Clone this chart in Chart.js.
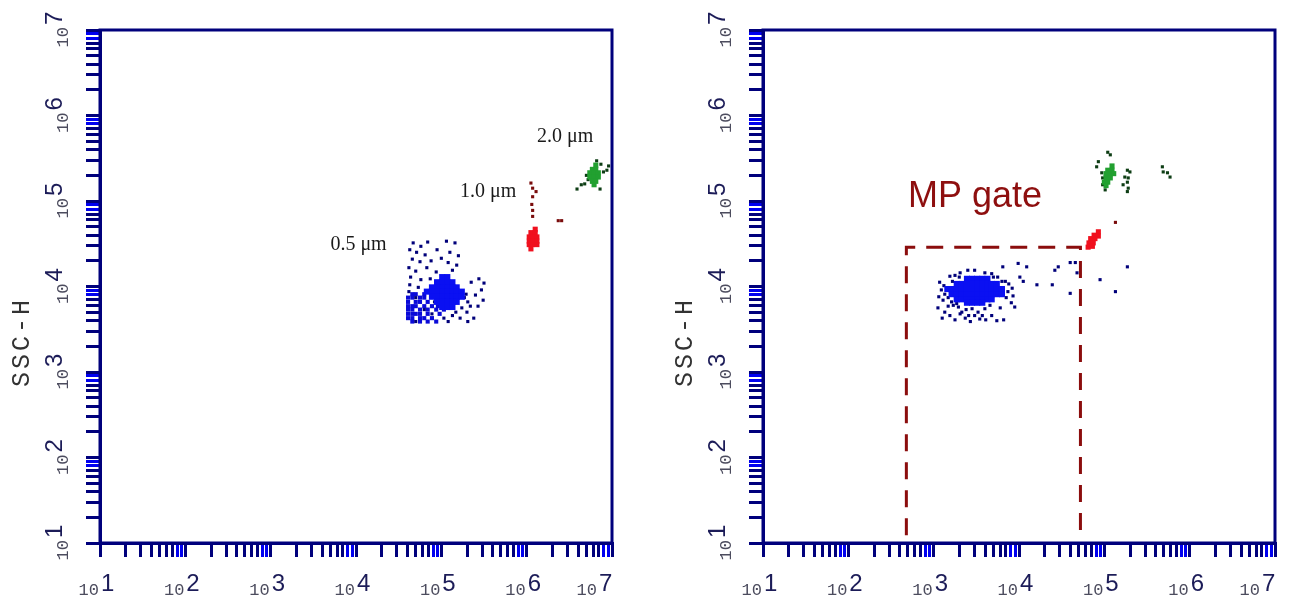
<!DOCTYPE html>
<html>
<head>
<meta charset="utf-8">
<script src="https://cdn.jsdelivr.net/npm/chart.js@4.4.1/dist/chart.umd.min.js"></script>
<style>
  html, body { margin: 0; padding: 0; background: #fff; width: 1298px; height: 607px; overflow: hidden; }
  canvas { position: absolute; top: 0; }
  #left { left: 0; }
  #right { left: 663px; }
</style>
</head>
<body>
<canvas id="left" width="635" height="607"></canvas>
<canvas id="right" width="635" height="607"></canvas>
<script>
// values, as [log10 FSC-H, log10 SSC-H]
const leftBlueCore = [
  [5.01,4.11],[5.07,4.11],
  [4.95,4.05],[5.01,4.05],[5.07,4.05],[5.13,4.05],
  [4.89,3.99],[4.95,3.99],[5.01,3.99],[5.07,3.99],[5.13,3.99],[5.18,3.99],
  [4.83,3.94],[4.89,3.94],[4.95,3.94],[5.01,3.94],[5.07,3.94],[5.13,3.94],[5.18,3.94],[5.24,3.94],
  [4.89,3.88],[4.95,3.88],[5.01,3.88],[5.07,3.88],[5.13,3.88],[5.18,3.88],[5.24,3.88],
  [4.95,3.82],[5.01,3.82],[5.07,3.82],[5.13,3.82],[5.18,3.82],
  [5.01,3.76],[5.07,3.76],[5.13,3.76]
];
const leftBlueDense = [
  [4.66,3.91],[4.70,3.91],[4.80,3.91],
  [4.61,3.87],[4.66,3.87],[4.75,3.87],[4.80,3.87],
  [4.61,3.82],[4.70,3.82],[4.75,3.82],[4.84,3.82],
  [4.61,3.77],[4.66,3.77],[4.70,3.77],[4.80,3.77],[4.89,3.77],[4.96,3.77],
  [4.61,3.73],[4.66,3.73],[4.75,3.73],[4.84,3.73],[4.94,3.73],[5.03,3.73],
  [4.61,3.68],[4.66,3.68],[4.70,3.68],[4.75,3.68],[4.84,3.68],[4.98,3.68],
  [4.61,3.63],[4.66,3.63],[4.75,3.63],[4.80,3.63],[4.89,3.63],
  [4.66,3.59],[4.75,3.59],[4.84,3.59],[4.94,3.59]
];
const leftBlueSparse = [
  [4.67,4.51],[4.76,4.47],[4.84,4.52],[5.06,4.53],[5.16,4.51],
  [4.63,4.43],[4.71,4.40],[4.81,4.37],[4.95,4.43],[5.10,4.40],[5.20,4.36],
  [4.66,4.32],[4.75,4.29],[4.88,4.30],[5.00,4.33],[5.08,4.28],[5.18,4.25],
  [4.62,4.22],[4.70,4.18],[4.83,4.22],[4.94,4.17],[5.13,4.19],
  [4.64,4.11],[4.76,4.08],[4.87,4.09],[4.63,4.02],[4.73,3.99],[4.62,3.94],
  [5.35,4.05],[5.44,4.09],[5.50,4.04],[5.40,3.90],[5.47,3.96],[5.43,3.77],
  [5.30,3.70],[5.38,3.63],[5.49,3.84],
  [5.27,3.87],[5.31,3.82],[5.29,3.91],[5.24,3.75],[5.34,3.77],[5.17,3.70],
  [5.13,3.66],[5.22,3.63],[5.08,3.59],[5.31,3.59],[5.03,3.63],
  [4.70,3.87],[4.89,3.68],[4.92,3.82],[4.70,3.59],[4.80,3.73]
];
const leftRedCore = [
  [6.10,4.67],[6.05,4.63],[6.10,4.63],[6.03,4.58],[6.07,4.58],[6.12,4.58],
  [6.03,4.53],[6.07,4.53],[6.12,4.53],[6.03,4.49],[6.07,4.49],[6.12,4.49],[6.05,4.44]
];
const leftRedSparse = [
  [6.05,5.21],[6.07,5.15],[6.11,5.11],[6.07,5.05],[6.06,4.96],[6.07,4.89],
  [6.07,4.82],[6.37,4.77],[6.41,4.77]
];
const leftGreenCore = [
  [6.81,5.42],[6.77,5.37],[6.81,5.37],[6.74,5.33],[6.79,5.33],[6.84,5.33],
  [6.74,5.28],[6.79,5.28],[6.84,5.28],[6.77,5.23],[6.81,5.23],[6.79,5.19]
];
const leftGreenSparse = [
  [6.59,5.14],[6.64,5.19],[6.68,5.20],[6.72,5.25],[6.70,5.30],[6.82,5.47],
  [6.87,5.43],[6.90,5.34],[6.94,5.36],[6.96,5.41],[6.86,5.14]
];

const rightBlueCore = [
  [3.39,4.09],[3.45,4.09],[3.51,4.09],[3.57,4.09],[3.63,4.09],
  [3.27,4.03],[3.33,4.03],[3.39,4.03],[3.45,4.03],[3.51,4.03],[3.57,4.03],
  [3.63,4.03],[3.68,4.03],[3.74,4.03],
  [3.16,3.97],[3.21,3.97],[3.27,3.97],[3.33,3.97],[3.39,3.97],[3.45,3.97],[3.51,3.97],
  [3.57,3.97],[3.63,3.97],[3.68,3.97],[3.74,3.97],[3.80,3.97],
  [3.21,3.91],[3.27,3.91],[3.33,3.91],[3.39,3.91],[3.45,3.91],[3.51,3.91],[3.57,3.91],
  [3.63,3.91],[3.68,3.91],[3.74,3.91],[3.80,3.91],
  [3.27,3.85],[3.33,3.85],[3.39,3.85],[3.45,3.85],[3.51,3.85],[3.57,3.85],[3.63,3.85],[3.68,3.85],
  [3.39,3.81],[3.45,3.81],[3.51,3.81],[3.57,3.81]
];
const rightBlueSparse = [
  [3.07,4.05],[3.12,4.01],[3.09,3.96],[3.13,3.91],[3.06,3.88],[3.11,3.84],[3.17,3.87],
  [3.19,4.12],[3.25,4.13],[3.31,4.16],[3.40,4.19],[3.48,4.19],[3.60,4.16],[3.68,4.15],
  [3.75,4.11],[3.81,4.23],[3.84,4.06],[3.88,4.03],[3.92,3.98],[3.87,3.94],[3.93,3.89],
  [3.85,3.87],[3.91,3.81],[3.95,3.76],[3.22,4.06],[3.80,4.06],[3.30,4.11],[3.70,4.11],
  [3.05,3.75],[3.13,3.70],[3.10,3.63],[3.19,3.66],[3.25,3.61],[3.31,3.68],[3.37,3.63],
  [3.43,3.59],[3.48,3.66],[3.54,3.62],[3.61,3.61],[3.68,3.66],[3.74,3.60],[3.82,3.61],
  [3.29,3.76],[3.38,3.73],[3.45,3.74],[3.60,3.74],[3.66,3.78],[3.78,3.75],[3.23,3.78],
  [3.17,3.77],[3.33,3.70],[3.52,3.70],[3.21,3.82],[3.27,3.80],[3.41,3.66],[3.57,3.66],
  [3.99,4.27],[4.09,4.23],[4.01,4.11],[4.05,4.06],[4.21,4.02],[4.39,4.02],[4.42,4.19],
  [4.46,4.23],[4.60,4.28],[4.66,4.28],[4.68,4.16],[4.60,3.92],[4.95,4.08],[5.13,3.94],[5.27,4.23]
];
const rightRedCore = [
  [4.93,4.64],[4.88,4.60],[4.93,4.59],[4.84,4.56],[4.89,4.56],
  [4.82,4.51],[4.87,4.51],[4.81,4.46],[4.86,4.47]
];
const rightRedSparse = [[5.13,4.75]];
const rightGreenCore = [
  [5.09,5.41],[5.04,5.36],[5.09,5.36],[5.02,5.32],[5.07,5.32],[5.11,5.32],
  [5.02,5.27],[5.07,5.27],[5.00,5.22],[5.04,5.22],[5.02,5.18]
];
const rightGreenSparse = [
  [5.04,5.57],[5.07,5.54],[4.93,5.46],[4.91,5.40],[4.97,5.33],[4.98,5.27],[4.98,5.19],
  [5.01,5.13],[5.27,5.36],[5.30,5.34],[5.24,5.28],[5.28,5.27],[5.27,5.22],[5.22,5.19],
  [5.28,5.15],[5.27,5.11],[5.68,5.40],[5.69,5.34],[5.74,5.33],[5.77,5.28]
];

// MP gate corners (log10)
const gateFsc = [2.68, 4.72];
const gateSsc = [1.09, 4.46];

// axis ticks
const decadeExps = [1, 2, 3, 4, 5, 6, 7];
const tickMultipliers = [1, 2, 3, 4, 5, 6, 7, 8, 9];
const tickValues = [];
decadeExps.forEach(e => {
  (e < 7 ? tickMultipliers : [1]).forEach(m => tickValues.push(m * 10 ** e));
});

const NAVY = '#00007c';
const BRIGHT = '#0000f0';

const tickShade = c => {
  const v = c.tick ? c.tick.value : 10;
  const m = Math.round(v / 10 ** Math.floor(Math.log10(v) + 1e-9));
  return m >= 8 ? BRIGHT : NAVY;
};

function logAxis(axis) {
  return {
    type: 'logarithmic',
    min: 10,
    max: 1e7,
    afterBuildTicks: s => { s.ticks = tickValues.map(v => ({ value: v })); },
    afterFit: s => { if (axis === 'x') s.height = 14; else s.width = 14; },
    ticks: { display: false, autoSkip: false },
    grid: {
      drawOnChartArea: false, drawTicks: true, tickLength: 14,
      lineWidth: 3, tickWidth: 3, tickColor: tickShade
    },
    border: { display: true, color: NAVY, width: 3 }
  };
}

function dots(arr, color, r) {
  return {
    data: arr.map(([a, b]) => ({ x: 10 ** a, y: 10 ** b })),
    pointStyle: 'rect',
    pointRadius: r,
    pointBackgroundColor: color,
    pointBorderWidth: 0,
    showLine: false
  };
}

const facsLabels = {
  id: 'facsLabels',
  afterDraw(chart, args, opts) {
    const { ctx, chartArea: a, scales } = chart;
    const sx = scales.x, sy = scales.y;
    ctx.save();
    ctx.strokeStyle = NAVY;
    ctx.lineWidth = 3;
    ctx.strokeRect(a.left, a.top, a.right - a.left, a.bottom - a.top);

    ctx.textBaseline = 'alphabetic';
    decadeExps.forEach((e, i) => {
      let px = sx.getPixelForValue(10 ** e);
      if (i === decadeExps.length - 1) px -= 14;
      ctx.textAlign = 'right';
      ctx.font = '17px "Liberation Mono"';
      ctx.fillStyle = '#4c4c5e';
      ctx.fillText('10', px - 1, a.bottom + 52);
      ctx.textAlign = 'left';
      ctx.font = '24px "Liberation Sans"';
      ctx.fillStyle = '#1c1c58';
      ctx.fillText(String(e), px + 1, a.bottom + 48);
    });

    decadeExps.forEach(e => {
      const py = sy.getPixelForValue(10 ** e);
      ctx.save();
      ctx.translate(a.left - 32, py - 3);
      ctx.rotate(-Math.PI / 2);
      ctx.textAlign = 'right';
      ctx.font = '17px "Liberation Mono"';
      ctx.fillStyle = '#4c4c5e';
      ctx.fillText('10', 0, 0);
      ctx.textAlign = 'left';
      ctx.font = '24px "Liberation Sans"';
      ctx.fillStyle = '#1c1c58';
      ctx.fillText(String(e), 2, -6);
      ctx.restore();
    });

    ctx.save();
    ctx.translate(a.left - 71, a.top + 312);
    ctx.rotate(-Math.PI / 2);
    ctx.font = '25px "Liberation Mono"';
    ctx.letterSpacing = '3px';
    ctx.fillStyle = '#333333';
    ctx.textAlign = 'center';
    ctx.fillText('SSC-H', 0, 0);
    ctx.restore();

    (opts.notes || []).forEach(n => {
      ctx.font = n.font;
      ctx.fillStyle = n.color;
      ctx.textAlign = 'left';
      ctx.fillText(n.text, sx.getPixelForValue(n.fsc), sy.getPixelForValue(n.ssc));
    });
    ctx.restore();
  }
};

function makeChart(id, datasets, notes) {
  return new Chart(document.getElementById(id), {
    type: 'scatter',
    data: { datasets },
    options: {
      responsive: false,
      animation: false,
      events: [],
      layout: { padding: { left: 86, right: 23, top: 30, bottom: 50 } },
      scales: { x: logAxis('x'), y: logAxis('y') },
      plugins: {
        legend: { display: false },
        tooltip: { enabled: false },
        facsLabels: { notes }
      }
    },
    plugins: [facsLabels]
  });
}

const serif = '20px "Liberation Serif"';

makeChart('left', [
  dots(leftBlueCore, '#0a10f2', 4.3),
  dots(leftBlueSparse, '#00007a', 2.2),
  dots(leftBlueDense, '#0a0ad8', 2.9),
  dots(leftRedCore, '#f0101e', 3.6),
  dots(leftRedSparse, '#7a0c0c', 2.2),
  dots(leftGreenCore, '#22a030', 3.6),
  dots(leftGreenSparse, '#0d3d14', 2.2)
], [
  { text: '0.5 μm', fsc: 10 ** 3.70, ssc: 10 ** 4.43, font: serif, color: '#1a1a1a' },
  { text: '1.0 μm', fsc: 10 ** 5.22, ssc: 10 ** 5.05, font: serif, color: '#1a1a1a' },
  { text: '2.0 μm', fsc: 10 ** 6.12, ssc: 10 ** 5.69, font: serif, color: '#1a1a1a' }
]);

makeChart('right', [
  dots(rightBlueCore, '#0a10f2', 4.3),
  dots(rightBlueSparse, '#00007a', 2.2),
  dots(rightRedCore, '#f0101e', 3.6),
  dots(rightRedSparse, '#7a0c0c', 2.2),
  dots(rightGreenCore, '#22a030', 3.6),
  dots(rightGreenSparse, '#0d3d14', 2.2),
  {
    data: [
      { x: 10 ** gateFsc[0], y: 10 ** gateSsc[0] },
      { x: 10 ** gateFsc[0], y: 10 ** gateSsc[1] },
      { x: 10 ** gateFsc[1], y: 10 ** gateSsc[1] },
      { x: 10 ** gateFsc[1], y: 10 ** gateSsc[0] }
    ],
    showLine: true,
    borderColor: '#8b0d0d',
    borderWidth: 3,
    borderDash: [17, 11],
    pointRadius: 0,
    fill: false
  }
], [
  { text: 'MP gate', fsc: 10 ** 2.70, ssc: 10 ** 4.93, font: '36px "Liberation Sans"', color: '#8e0f0f' }
]);
</script>
</body>
</html>
